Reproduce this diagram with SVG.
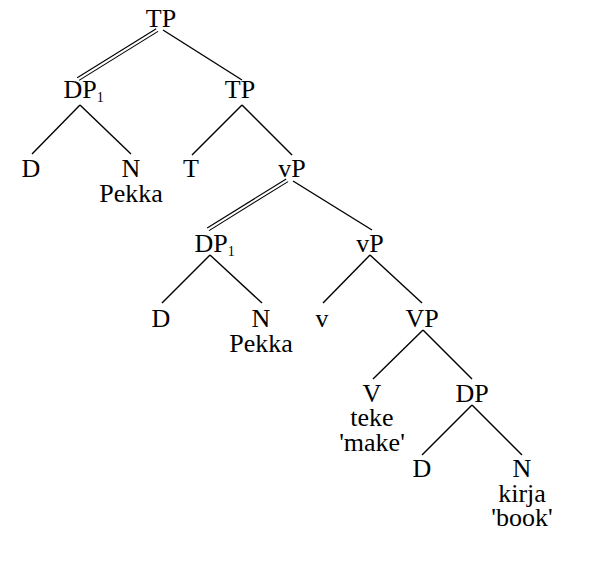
<svg xmlns="http://www.w3.org/2000/svg" width="610" height="570" viewBox="0 0 610 570">
<style>
text{font-family:"Liberation Serif","Times New Roman",serif;font-size:26px;fill:#000;text-anchor:middle}
text.s{text-anchor:start}
.sub{font-size:14px}
line{stroke:#000;stroke-width:1.4}
.dbl line{stroke-width:1.1}
</style>
<rect width="610" height="570" fill="#fff"/>
<g id="connectors">
<g class="dbl">
<line x1="156.2" y1="28.8" x2="77.2" y2="77.8"/>
<line x1="158" y1="31.4" x2="79" y2="80.4"/>
<line x1="286.2" y1="179" x2="207.2" y2="228"/>
<line x1="288" y1="181.6" x2="209" y2="230.6"/>
</g>
<line x1="163" y1="30" x2="242" y2="80"/>
<line x1="80" y1="105" x2="32" y2="154"/>
<line x1="80" y1="105" x2="131" y2="154"/>
<line x1="242" y1="105" x2="192" y2="155"/>
<line x1="242" y1="105" x2="292" y2="155"/>
<line x1="293" y1="181" x2="372" y2="230"/>
<line x1="210" y1="255" x2="162" y2="303"/>
<line x1="210" y1="255" x2="262" y2="303"/>
<line x1="370" y1="255" x2="323" y2="303"/>
<line x1="370" y1="255" x2="422" y2="303"/>
<line x1="423" y1="330" x2="373" y2="379"/>
<line x1="423" y1="330" x2="472" y2="379"/>
<line x1="472" y1="405" x2="422" y2="455"/>
<line x1="472" y1="405" x2="522" y2="455"/>
</g>
<g id="n-tp-root"><text x="161" y="27">TP</text></g>
<g id="n-dp1-a"><text class="s" x="63.5" y="98">DP<tspan class="sub" dy="4">1</tspan></text></g>
<g id="n-tp2"><text x="240" y="98">TP</text></g>
<g id="n-d1"><text x="31" y="177">D</text></g>
<g id="n-n1"><text x="131" y="177">N</text><text x="131" y="202">Pekka</text></g>
<g id="n-t"><text x="191" y="177">T</text></g>
<g id="n-vp1"><text x="292" y="177">vP</text></g>
<g id="n-dp1-b"><text class="s" x="194.5" y="252">DP<tspan class="sub" dy="4">1</tspan></text></g>
<g id="n-vp2"><text x="370" y="252">vP</text></g>
<g id="n-d2"><text x="161" y="327">D</text></g>
<g id="n-n2"><text x="261" y="327">N</text><text x="261" y="352">Pekka</text></g>
<g id="n-v"><text x="322" y="327">v</text></g>
<g id="n-VP"><text x="422" y="327">VP</text></g>
<g id="n-V"><text x="372" y="402">V</text><text x="372" y="426">teke</text><text x="372" y="451">'make'</text></g>
<g id="n-dp3"><text x="472" y="402">DP</text></g>
<g id="n-d3"><text x="422" y="477">D</text></g>
<g id="n-n3"><text x="522" y="477">N</text><text x="522" y="502">kirja</text><text x="522" y="526">'book'</text></g>
</svg>
